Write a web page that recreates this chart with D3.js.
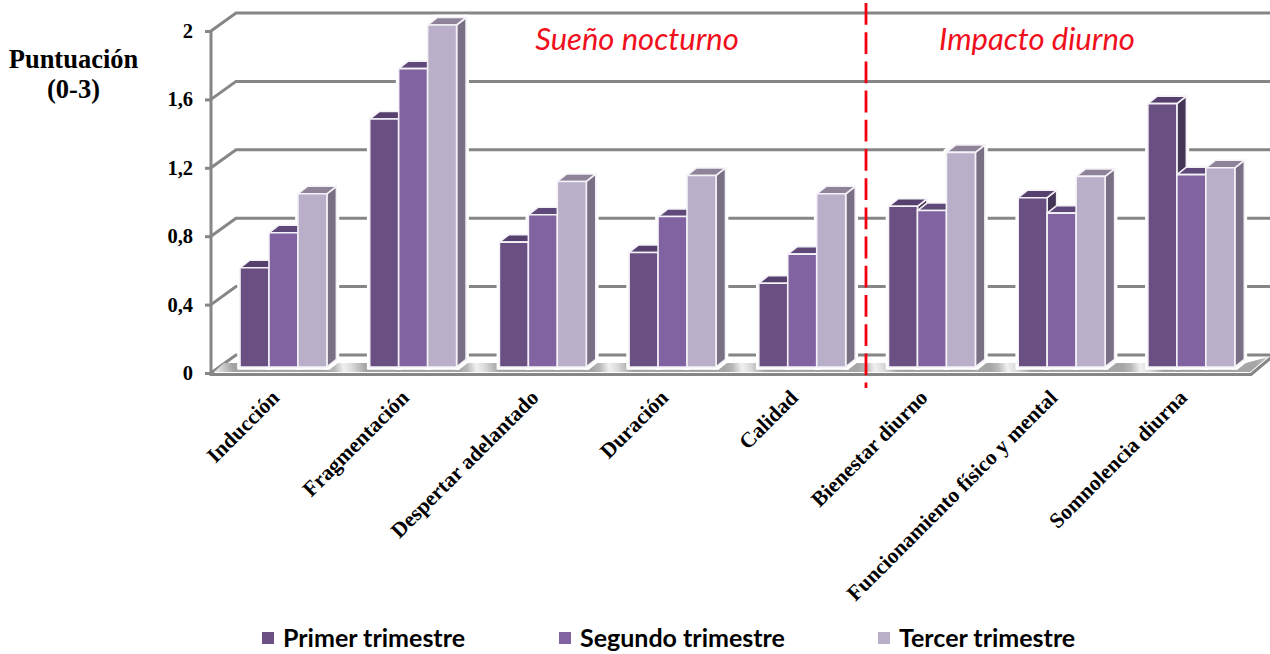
<!DOCTYPE html>
<html lang="es">
<head>
<meta charset="utf-8">
<title>Puntuación por trimestre</title>
<script src="https://cdn.jsdelivr.net/npm/d3@7/dist/d3.min.js"></script>
<style>
  html, body { margin: 0; padding: 0; background: #fff; }
  svg { display: block; }
</style>
</head>
<body>
<svg id="chart" width="1270" height="654"></svg>
<script>
// Chart data
const categories = ["Inducción", "Fragmentación", "Despertar adelantado", "Duración", "Calidad",
  "Bienestar diurno", "Funcionamiento físico y mental", "Somnolencia diurna"];
const seriesNames = ["Primer trimestre", "Segundo trimestre", "Tercer trimestre"];
const primerTrimestre = [0.58, 1.45, 0.73, 0.67, 0.49, 0.94, 0.99, 1.54];
const segundoTrimestre = [0.785, 1.745, 0.89, 0.88, 0.66, 0.915, 0.90, 1.125];
const tercerTrimestre = [1.013, 2.0, 1.085, 1.12, 1.013, 1.255, 1.115, 1.165];
const tickValues = [0, 0.4, 0.8, 1.2, 1.6, 2];
const sectionTitles = ["Sueño nocturno", "Impacto diurno"];

const faceColors = ["#6b5083", "#8063a0", "#b9afc9"];
const topColors = ["#55406e", "#5f4a7a", "#8f8399"];
const sideColors = ["#453556", "#5a4a6e", "#7a7085"];
const series = [primerTrimestre, segundoTrimestre, tercerTrimestre];

const svg = d3.select("#chart");
const gridGray = "#868686";

// Scales: the value scale runs along the front plane of the axis wall
const y = d3.scaleLinear().domain([0, 2]).range([373, 31]);
const x = d3.scaleBand().domain(categories).range([218.6, 1256.2]).paddingInner(0.33).paddingOuter(0.165);
const xSeries = d3.scaleBand().domain(d3.range(3)).range([0, x.bandwidth()]);

// Perspective offsets of the chart box and of each bar
const wall = { dx: 25, dy: -18 };
const barBase = { dx: 0, dy: -6 };
const barDepth = { dx: 9.5, dy: -7.5 };

const defs = svg.append("defs");

// Repeating sheen on the floor, one highlight per gap between groups
const floorGrad = defs.append("linearGradient").attr("id", "floorShine")
  .attr("gradientUnits", "userSpaceOnUse").attr("spreadMethod", "repeat")
  .attr("x1", 327).attr("y1", 372).attr("x2", 327 + x.step()).attr("y2", 352);
[[0, "#a6a6a6"], [0.06, "#b8b8b8"], [0.13, "#f0f0f0"], [0.19, "#dcdcdc"], [0.3, "#a2a2a2"], [1, "#a6a6a6"]]
  .forEach(([o, c]) => floorGrad.append("stop").attr("offset", o).attr("stop-color", c));

// White halo that separates the prisms from whatever lies behind them
const halo = defs.append("filter").attr("id", "barHalo")
  .attr("x", "-5%").attr("y", "-5%").attr("width", "110%").attr("height", "110%");
halo.append("feMorphology").attr("in", "SourceAlpha").attr("operator", "dilate").attr("radius", 1.5).attr("result", "grown");
halo.append("feFlood").attr("flood-color", "#fff").attr("result", "white");
halo.append("feComposite").attr("in", "white").attr("in2", "grown").attr("operator", "in").attr("result", "ring");
const haloMerge = halo.append("feMerge");
haloMerge.append("feMergeNode").attr("in", "ring");
haloMerge.append("feMergeNode").attr("in", "SourceGraphic");

// Back wall gridlines and their returns to the axis
const grid = svg.append("g").attr("fill", "none").attr("stroke", gridGray).attr("stroke-width", 3);
tickValues.forEach(v => {
  grid.append("path").attr("d", d3.line()([
    [211, y(v)], [211 + wall.dx, y(v) + wall.dy], [1272, y(v) + wall.dy]
  ]));
});

// Floor slab
const y0 = y(0);
svg.append("path")
  .attr("d", d3.line()([[224, y0 - 10], [1246, y0 - 10], [1268, y0 - 16], [1250, y0 - 1], [214, y0 - 1]]) + "Z")
  .attr("fill", "url(#floorShine)");
svg.append("path")
  .attr("d", d3.line()([[211, y0 + 1.5], [1251, y0 + 1.5], [1273, y0 - 17]]))
  .attr("fill", "none").attr("stroke", gridGray).attr("stroke-width", 3);

// Vertical axis with tick marks
const axis = d3.axisLeft(y).tickValues(tickValues).tickSize(6).tickPadding(12)
  .tickFormat(d => String(d).replace(".", ","));
const axisG = svg.append("g").attr("transform", "translate(211,0)").call(axis);
axisG.selectAll("path, line").attr("stroke", gridGray).attr("stroke-width", 3);
axisG.select(".domain").attr("d", `M0,${y(2)}V${y(0) + 3}`);
axisG.selectAll("text")
  .attr("font-family", "'Liberation Serif', serif")
  .attr("font-weight", "bold").attr("font-size", 20.5).attr("fill", "#000");

// Prism bars: each one paints over the previous, so a neighbour hides its side and top
const bars = svg.append("g").attr("filter", "url(#barHalo)")
  .attr("stroke", "#f4f2f7").attr("stroke-width", 1.6).attr("stroke-linejoin", "round");
categories.forEach((cat, i) => {
  [0, 1, 2].forEach(s => {
    const v = series[s][i];
    const x0 = x(cat) + xSeries(s);
    const x1 = x0 + xSeries.bandwidth();
    const yb = y(0) + barBase.dy;
    const yt = y(v) + barBase.dy;
    const g = bars.append("g");
    g.append("path").attr("fill", sideColors[s]).attr("d", d3.line()([
      [x1, yb], [x1 + barDepth.dx, yb + barDepth.dy], [x1 + barDepth.dx, yt + barDepth.dy], [x1, yt]
    ]) + "Z");
    g.append("path").attr("fill", topColors[s]).attr("d", d3.line()([
      [x0, yt], [x0 + barDepth.dx, yt + barDepth.dy], [x1 + barDepth.dx, yt + barDepth.dy], [x1, yt]
    ]) + "Z");
    g.append("rect").attr("x", x0).attr("y", yt).attr("width", x1 - x0).attr("height", yb - yt)
      .attr("fill", faceColors[s]);
  });
});

// Category labels, rotated and anchored below each group
svg.append("g").selectAll("text").data(categories).join("text")
  .attr("transform", d => `translate(${x(d) + x.bandwidth() * 0.5 - 3},399) rotate(-45)`)
  .attr("text-anchor", "end")
  .attr("font-family", "'Liberation Serif', serif")
  .attr("font-weight", "bold").attr("font-size", 21.5).attr("fill", "#000")
  .text(d => d);

// Value axis caption
const caption = svg.append("text").attr("text-anchor", "middle")
  .attr("font-family", "'Liberation Serif', serif").attr("font-weight", "bold")
  .attr("font-size", 26.5).attr("fill", "#000");
caption.append("tspan").attr("x", 73.5).attr("y", 68).text("Puntuación");
caption.append("tspan").attr("x", 73.5).attr("y", 98).text("(0-3)");

// Divider between the night and day sections
svg.append("line").attr("x1", 866).attr("x2", 866).attr("y1", 3).attr("y2", 388)
  .attr("stroke", "#f2000f").attr("stroke-width", 2.8).attr("stroke-dasharray", "21.8 7.4");

// Section headings
svg.append("g").selectAll("text").data(sectionTitles).join("text")
  .attr("x", (d, i) => [637, 1037][i]).attr("y", 50)
  .attr("text-anchor", "middle")
  .attr("font-family", "Lato, sans-serif").attr("font-style", "italic")
  .attr("font-size", 31).attr("fill", "#f00f1c")
  .text(d => d);

// Legend
const legendX = d3.scaleOrdinal().domain(seriesNames).range([262, 559, 878]);
const legend = svg.append("g").selectAll("g").data(seriesNames).join("g")
  .attr("transform", d => `translate(${legendX(d)},632)`);
legend.append("rect").attr("width", 12).attr("height", 12)
  .attr("fill", (d, i) => faceColors[i]);
legend.append("text").attr("x", 21).attr("y", 15)
  .attr("font-family", "Lato, sans-serif").attr("font-weight", "bold")
  .attr("font-size", 25).attr("fill", "#000")
  .text(d => d);
</script>
</body>
</html>
